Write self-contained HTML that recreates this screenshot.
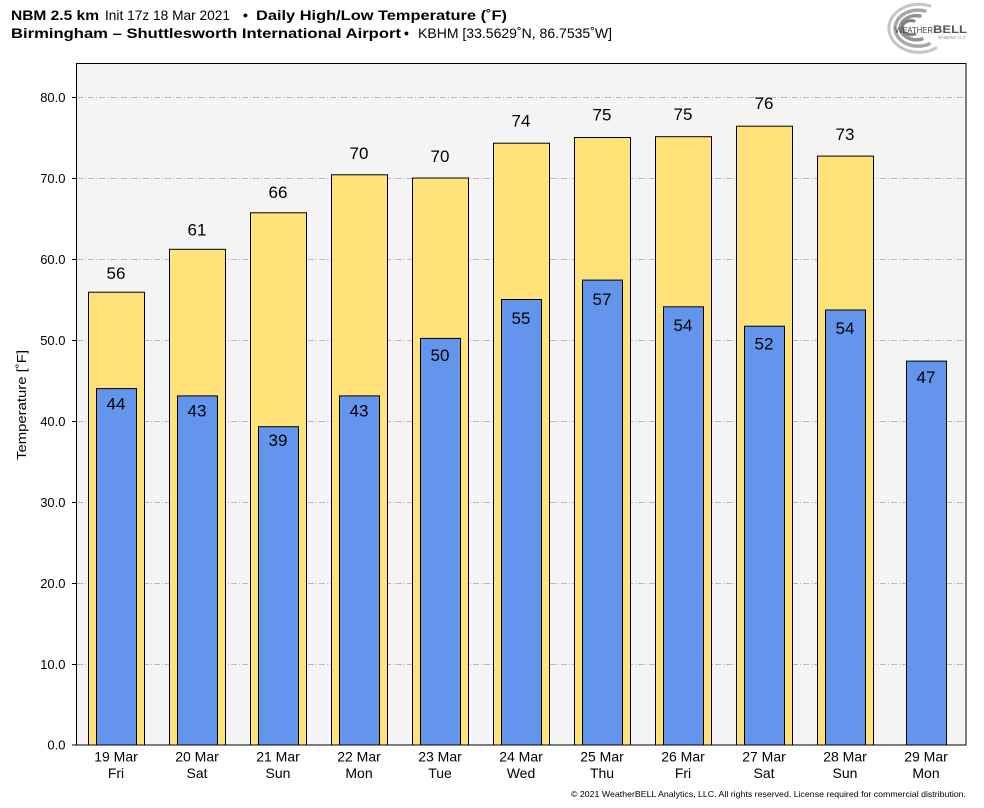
<!DOCTYPE html>
<html>
<head>
<meta charset="utf-8">
<style>
  html,body{margin:0;padding:0;background:#ffffff;}
  svg{display:block;}
  text{font-family:"Liberation Sans","DejaVu Sans",sans-serif;fill:#000;}
</style>
</head>
<body>
<svg width="984" height="808" viewBox="0 0 984 808" xmlns="http://www.w3.org/2000/svg">
  <rect x="0" y="0" width="984" height="808" fill="#ffffff"/>

  <!-- Title -->
  <text x="11" y="20" font-size="14" font-weight="bold" textLength="88" lengthAdjust="spacingAndGlyphs">NBM 2.5 km</text>
  <text x="105" y="20" font-size="14" textLength="125" lengthAdjust="spacingAndGlyphs">Init 17z 18 Mar 2021</text>
  <text x="243" y="20" font-size="14" font-weight="bold">•</text>
  <text x="256" y="20" font-size="14" font-weight="bold" textLength="251" lengthAdjust="spacingAndGlyphs">Daily High/Low Temperature (˚F)</text>

  <text x="11" y="38" font-size="14" font-weight="bold" textLength="390" lengthAdjust="spacingAndGlyphs">Birmingham – Shuttlesworth International Airport</text>
  <text x="404" y="38" font-size="14" font-weight="bold">•</text>
  <text x="418" y="38" font-size="14" textLength="194" lengthAdjust="spacingAndGlyphs">KBHM [33.5629˚N, 86.7535˚W]</text>

  <!-- Logo -->
  <g fill="none" stroke-linecap="round">
    <path d="M 930 6 A 30 24 0 1 0 936 48" stroke="#c4c4c4" stroke-width="3"/>
    <path d="M 925 11 A 23 18 0 1 0 929 44" stroke="#a8a8a8" stroke-width="3.5"/>
    <path d="M 920 16 A 16 12 0 1 0 922 39" stroke="#929292" stroke-width="3.5"/>
    <path d="M 914 21 A 9 7 0 1 0 915 34" stroke="#808080" stroke-width="3"/>
  </g>
  <text x="895" y="33" font-family="Liberation Serif, serif" font-size="8" style="fill:#444" textLength="38" lengthAdjust="spacingAndGlyphs">WEATHER</text>
  <text x="933" y="33" font-family="Liberation Serif, serif" font-size="11" font-weight="bold" style="fill:#555" textLength="34" lengthAdjust="spacingAndGlyphs">BELL</text>
  <text x="938" y="38.5" font-size="3.5" style="fill:#777" textLength="28" lengthAdjust="spacingAndGlyphs">Analytics LLC</text>

  <!-- Plot background -->
  <rect x="76.5" y="63.5" width="889.5" height="681.5" fill="#f4f4f4"/>

  <!-- Gridlines -->
  <g stroke="#b8b8b8" stroke-width="1" stroke-dasharray="6,2,1,2">
    <line x1="77" y1="664.5" x2="966" y2="664.5"/>
    <line x1="77" y1="583.5" x2="966" y2="583.5"/>
    <line x1="77" y1="502.5" x2="966" y2="502.5"/>
    <line x1="77" y1="421.5" x2="966" y2="421.5"/>
    <line x1="77" y1="340.5" x2="966" y2="340.5"/>
    <line x1="77" y1="259.5" x2="966" y2="259.5"/>
    <line x1="77" y1="178.5" x2="966" y2="178.5"/>
    <line x1="77" y1="97.5" x2="966" y2="97.5"/>
  </g>

  <!-- High bars -->
  <g fill="#ffe37a" stroke="#000" stroke-width="1">
    <rect x="88.5" y="292.2" width="56" height="452.8"/>
    <rect x="169.5" y="249.3" width="56" height="495.7"/>
    <rect x="250.5" y="212.8" width="56" height="532.2"/>
    <rect x="331.5" y="174.8" width="56" height="570.2"/>
    <rect x="412.5" y="178" width="56" height="567"/>
    <rect x="493.5" y="143.2" width="56" height="601.8"/>
    <rect x="574.5" y="137.5" width="56" height="607.5"/>
    <rect x="655.5" y="136.7" width="56" height="608.3"/>
    <rect x="736.5" y="126.2" width="56" height="618.8"/>
    <rect x="817.5" y="156.1" width="56" height="588.9"/>
  </g>

  <!-- Low bars -->
  <g fill="#6495ed" stroke="#000" stroke-width="1">
    <rect x="96.5" y="388.6" width="40" height="356.4"/>
    <rect x="177.5" y="395.9" width="40" height="349.1"/>
    <rect x="258.5" y="426.7" width="40" height="318.3"/>
    <rect x="339.5" y="395.9" width="40" height="349.1"/>
    <rect x="420.5" y="338.4" width="40" height="406.6"/>
    <rect x="501.5" y="299.5" width="40" height="445.5"/>
    <rect x="582.5" y="280.1" width="40" height="464.9"/>
    <rect x="663.5" y="306.8" width="40" height="438.2"/>
    <rect x="744.5" y="326.2" width="40" height="418.8"/>
    <rect x="825.5" y="310.0" width="40" height="435"/>
    <rect x="906.5" y="361.1" width="40" height="383.9"/>
  </g>

  <!-- High labels -->
  <g font-size="17" text-anchor="middle">
    <text x="116" y="279.2">56</text>
    <text x="197" y="235.3">61</text>
    <text x="278" y="197.9">66</text>
    <text x="359" y="158.9">70</text>
    <text x="440" y="162.2">70</text>
    <text x="521" y="126.5">74</text>
    <text x="602" y="120.7">75</text>
    <text x="683" y="119.9">75</text>
    <text x="764" y="109.1">76</text>
    <text x="845" y="139.8">73</text>
  </g>

  <!-- Low labels -->
  <g font-size="17" text-anchor="middle">
    <text x="116" y="409.4">44</text>
    <text x="197" y="416.3">43</text>
    <text x="278" y="445.9">39</text>
    <text x="359" y="416.3">43</text>
    <text x="440" y="361.2">50</text>
    <text x="521" y="323.8">55</text>
    <text x="602" y="305.2">57</text>
    <text x="683" y="330.8">54</text>
    <text x="764" y="349.5">52</text>
    <text x="845" y="333.9">54</text>
    <text x="926" y="382.9">47</text>
  </g>

  <!-- Plot frame -->
  <rect x="76.5" y="63.5" width="889.5" height="681.5" fill="none" stroke="#000" stroke-width="1"/>

  <!-- Y ticks -->
  <g stroke="#000" stroke-width="1">
    <line x1="72" y1="745" x2="76.5" y2="745"/>
    <line x1="72" y1="664.5" x2="76.5" y2="664.5"/>
    <line x1="72" y1="583.5" x2="76.5" y2="583.5"/>
    <line x1="72" y1="502.5" x2="76.5" y2="502.5"/>
    <line x1="72" y1="421.5" x2="76.5" y2="421.5"/>
    <line x1="72" y1="340.5" x2="76.5" y2="340.5"/>
    <line x1="72" y1="259.5" x2="76.5" y2="259.5"/>
    <line x1="72" y1="178.5" x2="76.5" y2="178.5"/>
    <line x1="72" y1="97.5" x2="76.5" y2="97.5"/>
  </g>
  <g font-size="13" text-anchor="end">
    <text x="65.5" y="749.5">0.0</text>
    <text x="65.5" y="669">10.0</text>
    <text x="65.5" y="588">20.0</text>
    <text x="65.5" y="507">30.0</text>
    <text x="65.5" y="426">40.0</text>
    <text x="65.5" y="345">50.0</text>
    <text x="65.5" y="264">60.0</text>
    <text x="65.5" y="183">70.0</text>
    <text x="65.5" y="102">80.0</text>
  </g>

  <!-- Y axis label -->
  <text x="0" y="0" font-size="13" text-anchor="middle" transform="translate(26,405) rotate(-90)" textLength="110" lengthAdjust="spacingAndGlyphs">Temperature [˚F]</text>

  <!-- X labels -->
  <g font-size="14" text-anchor="middle">
    <text x="116" y="761.5">19 Mar</text><text x="116" y="778">Fri</text>
    <text x="197" y="761.5">20 Mar</text><text x="197" y="778">Sat</text>
    <text x="278" y="761.5">21 Mar</text><text x="278" y="778">Sun</text>
    <text x="359" y="761.5">22 Mar</text><text x="359" y="778">Mon</text>
    <text x="440" y="761.5">23 Mar</text><text x="440" y="778">Tue</text>
    <text x="521" y="761.5">24 Mar</text><text x="521" y="778">Wed</text>
    <text x="602" y="761.5">25 Mar</text><text x="602" y="778">Thu</text>
    <text x="683" y="761.5">26 Mar</text><text x="683" y="778">Fri</text>
    <text x="764" y="761.5">27 Mar</text><text x="764" y="778">Sat</text>
    <text x="845" y="761.5">28 Mar</text><text x="845" y="778">Sun</text>
    <text x="926" y="761.5">29 Mar</text><text x="926" y="778">Mon</text>
  </g>

  <!-- Copyright -->
  <text x="571" y="797" font-size="8.5" textLength="395" lengthAdjust="spacingAndGlyphs">© 2021 WeatherBELL Analytics, LLC. All rights reserved. License required for commercial distribution.</text>
</svg>
</body>
</html>
